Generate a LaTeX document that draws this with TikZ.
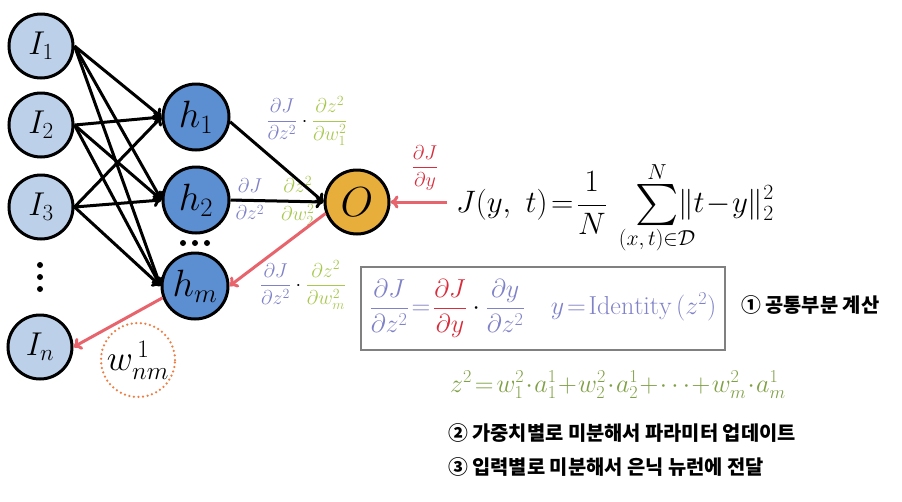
\RequirePackage{fix-cm}
\documentclass[tikz,border=0pt]{standalone}
\usepackage{amsmath}
\usepackage{graphicx}
\usepackage{fontspec}
\newfontfamily\kr{Noto Sans CJK KR}
\usetikzlibrary{arrows.meta}
\definecolor{inblue}{RGB}{188,208,234}
\definecolor{hidblue}{RGB}{92,142,210}
\definecolor{outorg}{RGB}{232,174,60}
\definecolor{redarr}{RGB}{232,100,108}
\definecolor{purp}{RGB}{128,130,200}
\definecolor{ygreen}{RGB}{168,200,80}
\definecolor{olive}{RGB}{128,160,70}
\definecolor{redtxt}{RGB}{215,45,60}
\definecolor{dotorg}{RGB}{238,125,65}
\definecolor{boxgray}{RGB}{128,128,128}
\newcommand{\bigsumop}{\mathop{\vcenter{\hbox{\scalebox{1.65}{$\textstyle\sum$}}}}}
\begin{document}
\begin{tikzpicture}[x=1pt,y=-1pt,
  neuron/.style={circle,draw=black,line width=3pt,inner sep=0pt,minimum size=64pt},
  inp/.style={neuron,fill=inblue,font=\fontsize{33}{35}\selectfont},
  hid/.style={neuron,fill=hidblue,minimum size=66pt,font=\fontsize{38}{40}\selectfont},
  outn/.style={neuron,fill=outorg,font=\fontsize{42}{44}\selectfont},
  fwd/.style={draw=black,line width=3pt,-{To[length=8pt,width=13pt]}},
  bwd/.style={draw=redarr,line width=3pt,-{To[length=8pt,width=13pt]}},
  lab/.style={inner sep=0pt,font=\fontsize{20}{22}\selectfont},
  dotn/.style={circle,fill=black,inner sep=0pt,minimum size=6pt},
  krtext/.style={inner sep=0pt,anchor=west,font=\kr\bfseries\fontsize{19.8}{22}\selectfont},
]
\useasboundingbox (0,0) rectangle (902,501);

% labels on connectors (drawn first, connectors pass over them)
\node[lab] (L1) at (307,121) {$\displaystyle\textcolor{purp}{\frac{\partial J}{\partial z^2}}\cdot\textcolor{ygreen}{\frac{\partial z^2}{\partial w_1^2}}$};
\node[lab] (L2) at (275,201) {$\displaystyle\textcolor{purp}{\frac{\partial J}{\partial z^2}}\cdot\textcolor{ygreen}{\frac{\partial z^2}{\partial w_2^2}}$};
\node[lab] (L3) at (303,285) {$\displaystyle\textcolor{purp}{\frac{\partial J}{\partial z^2}}\cdot\textcolor{ygreen}{\frac{\partial z^2}{\partial w_m^2}}$};
\node[lab] (Ly) at (425,168) {$\displaystyle\textcolor{redtxt}{\frac{\partial J}{\partial y}}$};

% neurons
\node[inp] (I1) at (41,46) {$I_1$};
\node[inp] (I2) at (41,125) {$I_2$};
\node[inp] (I3) at (41,207) {$I_3$};
\node[inp] (In) at (40,347) {$I_n$};
\node[hid] (h1) at (196,117) {$h_1$};
\node[hid] (h2) at (196,200) {$h_2$};
\node[hid] (hm) at (195,286) {$h_m$};
\node[outn] (O) at (357,202) {$O$};

% ellipsis dots
\node[dotn] (dh1) at (183,243) {};
\node[dotn] (dh2) at (195,243) {};
\node[dotn] (dh3) at (207,243) {};
\node[dotn] (di1) at (40,265) {};
\node[dotn] (di2) at (40,277) {};
\node[dotn] (di3) at (40,289) {};

% forward connectors
\foreach \i in {I1,I2,I3}
  \foreach \h in {h1,h2,hm}
    \draw[fwd] (\i.east) -- (\h.west);
\draw[fwd] (h1.-8) -- (O.west);
\draw[fwd] (h2.east) -- (O.west);

% backward connectors
\coordinate (Jin) at (447,202);
\draw[bwd] (Jin) -- (O.east);
\draw[bwd] (O.200) -- (hm.east);
\draw[bwd] (hm.200) -- (In.east);

% weight
\node[circle,draw=dotorg,line width=2.5pt,line cap=round,dash pattern=on 0pt off 4.6pt,
      minimum size=74pt,inner sep=0pt,font=\fontsize{36}{38}\selectfont] (wc) at (138,360) {$w^{\,1}_{nm}$};

% loss
\node[anchor=west,inner sep=0pt,font=\fontsize{31}{34}\selectfont] (J) at (456,208)
  {$\displaystyle J(y,\ t)\!=\!\frac{1}{N}\mskip4mu\bigsumop\limits_{(x,\,t)\in\mathcal{D}}^{N}\mskip-13mu\|t\!-\!y\|_2^2$};

% box
\node[draw=boxgray,line width=1.5pt,minimum width=364pt,minimum height=83pt,inner sep=0pt,
      font=\fontsize{26}{28}\selectfont] (box) at (543,308.5)
  {$\displaystyle\textcolor{purp}{\frac{\partial J}{\partial z^2}}\mskip2mu\textcolor{purp}{=}\mskip2mu\textcolor{redtxt}{\frac{\partial J}{\partial y}}\cdot\textcolor{purp}{\frac{\partial y}{\partial z^2}}\quad\textcolor{purp}{y\!=\!\mathrm{Identity}\,(z^2)}$};

\node[krtext] (t1) at (741,305) {① 공통부분 계산};

\node[anchor=west,inner sep=0pt,text=olive,font=\fontsize{26}{28}\selectfont] (z) at (450,385)
  {$z^2\!=\!w_1^2\!\cdot\! a_1^1\!+\!w_2^2\!\cdot\! a_2^1\!+\!\cdots\!+\!w_m^2\!\cdot\! a_m^1$};

\node[krtext] (t2) at (448,433) {② 가중치별로 미분해서 파라미터 업데이트};
\node[krtext] (t3) at (448,467) {③ 입력별로 미분해서 은닉 뉴런에 전달};
\end{tikzpicture}
\end{document}
